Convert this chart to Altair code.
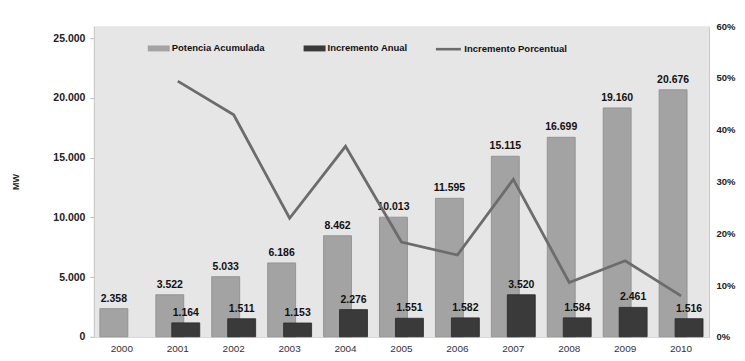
import altair as alt
import pandas as pd

years = ["2000", "2001", "2002", "2003", "2004", "2005", "2006", "2007", "2008", "2009", "2010"]
potencia = [2358, 3522, 5033, 6186, 8462, 10013, 11595, 15115, 16699, 19160, 20676]
incremento = [None, 1164, 1511, 1153, 2276, 1551, 1582, 3520, 1584, 2461, 1516]
porcentual = [None, 0.494, 0.429, 0.229, 0.368, 0.183, 0.158, 0.304, 0.105, 0.147, 0.079]

S1, S2, S3 = "Potencia Acumulada", "Incremento Anual", "Incremento Porcentual"

rows = []
for i, y in enumerate(years):
    rows.append({"year": y, "series": S1, "value": potencia[i]})
    if incremento[i] is not None:
        rows.append({"year": y, "series": S2, "value": incremento[i]})
bars_df = pd.DataFrame(rows)
line_df = pd.DataFrame({"year": years[1:], "series": S3, "pct": porcentual[1:]})

FONT = "Liberation Sans"
label_expr = "replace(format(datum.value, ','), ',', '.')"

x = alt.X("year:O", title=None,
          scale=alt.Scale(paddingInner=0, paddingOuter=0),
          axis=alt.Axis(labelAngle=0, labelFont=FONT, labelFontSize=10, labelColor="#333",
                        labelPadding=7, ticks=False, domainColor="#cfcfcf"))

color = alt.Color("series:N",
                  scale=alt.Scale(domain=[S1, S2], range=["#a3a3a3", "#3a3a3a"]),
                  legend=alt.Legend(title=None, orient="none", legendX=54, legendY=11,
                                    direction="horizontal", labelFont=FONT, labelFontSize=9.5,
                                    labelFontWeight="bold", labelColor="#111",
                                    symbolType="M-1,-0.27H1V0.27H-1Z", symbolSize=484,
                                    symbolStrokeWidth=0, labelOffset=2, columnPadding=38))

yb = alt.Y("value:Q", title="MW",
           scale=alt.Scale(domain=[0, 25000]),
           axis=alt.Axis(values=[0, 5000, 10000, 15000, 20000, 25000], labelExpr=label_expr,
                         grid=False, labelFont=FONT, labelFontSize=10.5, labelFontWeight="bold",
                         labelColor="#222", tickSize=4, tickColor="#bbb", domainColor="#c8c8c8",
                         labelPadding=5, titleFont=FONT, titleFontSize=9, titleFontWeight="bold",
                         titleColor="#222", titlePadding=32))

base = alt.Chart(bars_df).transform_calculate(label=label_expr)

light = base.transform_filter(alt.datum.series == S1).mark_bar(
    width=28, xOffset=-8, stroke="#8c8c8c", strokeWidth=0.8).encode(x=x, y=yb, color=color)
dark = base.transform_filter(alt.datum.series == S2).mark_bar(
    width=28, xOffset=8, stroke="#2a2a2a", strokeWidth=0.8).encode(x=x, y=yb, color=color)

light_txt = base.transform_filter(alt.datum.series == S1).mark_text(
    dx=-8, dy=-5, baseline="bottom", font=FONT, fontSize=10.5, fontWeight="bold", color="#111"
).encode(x=x, y="value:Q", text="label:N")
dark_txt = base.transform_filter(alt.datum.series == S2).mark_text(
    dx=8, dy=-5, baseline="bottom", font=FONT, fontSize=10.5, fontWeight="bold", color="#111"
).encode(x=x, y="value:Q", text="label:N")

bars = alt.layer(light, dark, light_txt, dark_txt)

line = alt.Chart(line_df).mark_line(strokeWidth=2.8).encode(
    x=x,
    y=alt.Y("pct:Q", title=None, scale=alt.Scale(domain=[0, 0.6]),
            axis=alt.Axis(orient="right", format=".0%", values=[0, 0.1, 0.2, 0.3, 0.4, 0.5, 0.6],
                          grid=False, labelFont=FONT, labelFontSize=9.5, labelFontWeight="bold",
                          labelColor="#222", tickSize=0, domainColor="#c8c8c8", labelPadding=7)),
    stroke=alt.Stroke("series:N", scale=alt.Scale(domain=[S3], range=["#6c6c6c"]),
                      legend=alt.Legend(title=None, orient="none", legendX=341, legendY=9,
                                        labelFont=FONT, labelFontSize=9.5, labelFontWeight="bold",
                                        labelColor="#111", symbolType="stroke", symbolSize=625,
                                        symbolStrokeWidth=2.6, labelOffset=2)),
)

chart = alt.layer(bars, line).resolve_scale(y="independent", color="independent").properties(
    width=616, height=311,
    autosize=alt.AutoSizeParams(type="none"),
    padding={"left": 86, "top": 18, "right": 28, "bottom": 22},
    background="white",
).configure_view(fill="#e6e6e6", stroke=None)

chart.save("out.html", embed_options={"renderer": "svg", "actions": False})
